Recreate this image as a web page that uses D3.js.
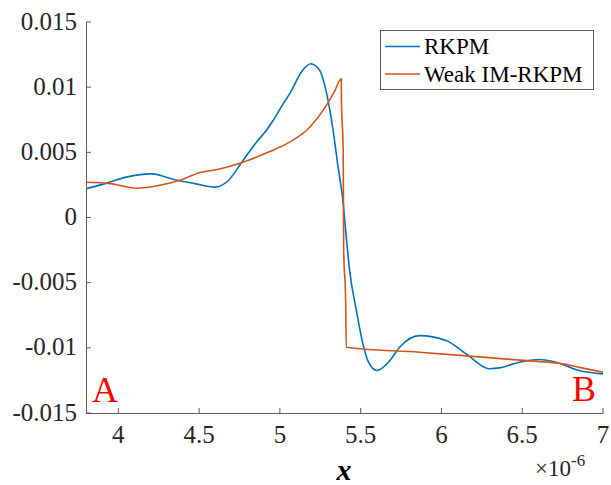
<!DOCTYPE html>
<html><head><meta charset="utf-8">
<script src="https://cdn.jsdelivr.net/npm/d3@7"></script>
<style>
body{margin:0;background:#fff;font-family:"Liberation Serif",serif}
svg text{font-family:"Liberation Serif",serif}
</style>
</head><body>
<svg id="c" width="611" height="485" font-family="Liberation Serif"></svg>
<script>
// Data (x in units of 1e-6)
const rkpmX = [3.8,3.917,4.05,4.206,4.35,4.474,4.597,4.678,4.762,4.814,4.863,4.917,4.956,5.019,5.061,5.141,5.191,5.246,5.288,5.328,5.36,5.39,5.411,5.432,5.473,5.514,5.545,5.6,5.679,5.741,5.864,6.029,6.153,6.297,6.359,6.482,6.606,6.709,6.853,7.0];
const rkpmY = [0.0022,0.0026,0.0031,0.00335,0.0029,0.0026,0.00233,0.0028,0.0042,0.0051,0.0059,0.0067,0.0074,0.0087,0.0095,0.0113,0.0118,0.0113,0.0096,0.0068,0.0039,0.0013,-0.0015,-0.0041,-0.0071,-0.0097,-0.011,-0.01174,-0.011,-0.00995,-0.00906,-0.00944,-0.01046,-0.0116,-0.01154,-0.0111,-0.0109,-0.0111,-0.01174,-0.0120];
const weakX = [3.8,3.95,4.113,4.25,4.39,4.5,4.62,4.762,4.814,4.926,5.06,5.185,5.288,5.339,5.38,5.381,5.392,5.395,5.407,5.411,5.864,6.135,6.543,6.75,6.853,7.0];
const weakY = [0.0027,0.0026,0.00225,0.00246,0.0029,0.00343,0.0037,0.0042,0.00443,0.0050,0.00578,0.00693,0.0086,0.0097,0.01065,0.009,0.0051,-0.0025,-0.0064,-0.00995,-0.01034,-0.0106,-0.0110,-0.01123,-0.0115,-0.01187];
const xTicks = [4,4.5,5,5.5,6,6.5,7];
const xTickLabels = ["4","4.5","5","5.5","6","6.5","7"];
const yTicks = [-0.015,-0.01,-0.005,0,0.005,0.01,0.015];
const yTickLabels = ["-0.015","-0.01","-0.005","0","0.005","0.01","0.015"];
const seriesNames = ["RKPM","Weak IM-RKPM"];
const seriesColors = ["#0072BD","#D95319"];

const svg = d3.select("#c");
const L=86, R=603, T=22, B=413;
const x = d3.scaleLinear().domain([3.8,7]).range([L,R]);
const y = d3.scaleLinear().domain([-0.015,0.015]).range([B,T]);
const axisColor="#5a5a5a";

// lines
const series = [d3.zip(rkpmX,rkpmY), d3.zip(weakX,weakY)];
const line = d3.line().x(d=>x(d[0])).y(d=>y(d[1])).curve(d3.curveMonotoneX);
series.forEach((s,i)=>{
  svg.append("path").attr("d",line(s)).attr("fill","none")
    .attr("stroke",seriesColors[i]).attr("stroke-width",1.6).attr("stroke-linejoin","round");
});

// axes
const gx = svg.append("g").attr("transform",`translate(0,${B})`);
gx.append("line").attr("x1",L).attr("x2",R+0.5).attr("y1",0.5).attr("y2",0.5).attr("stroke",axisColor);
xTicks.forEach((t,i)=>{
  gx.append("line").attr("x1",x(t)).attr("x2",x(t)).attr("y1",0).attr("y2",-5).attr("stroke",axisColor);
  gx.append("text").attr("x",x(t)).attr("y",30).attr("text-anchor","middle")
    .attr("font-size",25).attr("fill","#262626").text(xTickLabels[i]);
});
const gy = svg.append("g");
gy.append("line").attr("x1",L+0.5).attr("x2",L+0.5).attr("y1",T).attr("y2",B+0.5).attr("stroke",axisColor);
yTicks.forEach((t,i)=>{
  gy.append("line").attr("x1",L).attr("x2",L+5).attr("y1",y(t)).attr("y2",y(t)).attr("stroke",axisColor);
  gy.append("text").attr("x",77).attr("y",y(t)+7.5).attr("text-anchor","end")
    .attr("font-size",25).attr("fill","#262626").text(yTickLabels[i]);
});

// exponent
const ex = svg.append("text").attr("x",535).attr("y",476).attr("fill","#262626");
ex.append("tspan").attr("font-size",23).text("×10");
ex.append("tspan").attr("font-size",17).attr("dy",-10).text("-6");

// x label
svg.append("text").attr("x",344).attr("y",480).attr("text-anchor","middle")
  .attr("font-size",30).attr("font-weight","bold").attr("font-style","italic")
  .attr("fill","#000").text("x");

// A / B labels
svg.append("text").attr("x",92).attr("y",402).attr("font-size",36).attr("fill","#ff0000").text("A");
svg.append("text").attr("x",572).attr("y",401).attr("font-size",36).attr("fill","#ff0000").text("B");

// legend
const lg = svg.append("g");
lg.append("rect").attr("x",380.5).attr("y",30.5).attr("width",213).attr("height",59)
  .attr("fill","#fff").attr("stroke","#555").attr("stroke-width",1);
seriesNames.forEach((n,i)=>{
  const yy = 46.5 + i*27.5;
  lg.append("line").attr("x1",385).attr("x2",420).attr("y1",yy).attr("y2",yy)
    .attr("stroke",seriesColors[i]).attr("stroke-width",1.6);
  lg.append("text").attr("x",424).attr("y",yy+7.5).attr("font-size",23)
    .attr("fill","#000").text(n);
});
</script>
</body></html>
